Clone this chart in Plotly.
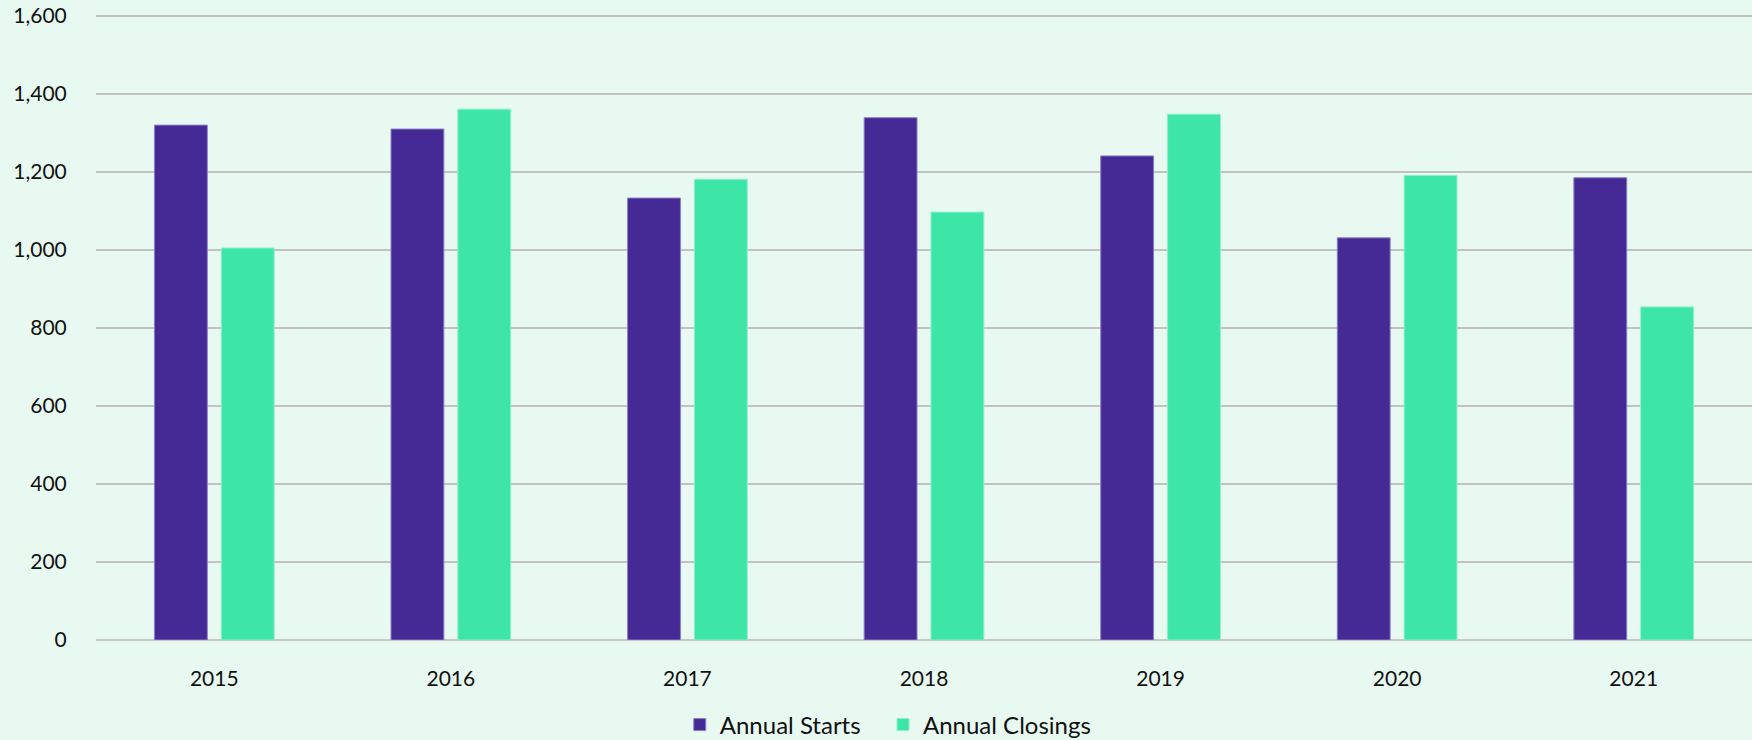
import plotly.graph_objects as go

years = ["2015", "2016", "2017", "2018", "2019", "2020", "2021"]
annual_starts = [1320, 1310, 1133, 1339, 1241, 1031, 1185]
annual_closings = [1005, 1361, 1181, 1097, 1348, 1191, 854]
y_ticks = [0, 200, 400, 600, 800, 1000, 1200, 1400, 1600]

PURPLE = "#452995"
GREEN = "#3DE5A7"
BG = "#E8F9F2"
FONT = "Lato, 'Open Sans', sans-serif"

fig = go.Figure()
fig.add_trace(go.Bar(x=years, y=annual_starts, name="Annual Starts", legend="legend",
                     marker=dict(color=PURPLE, line=dict(color="#8C7FC6", width=1))))
fig.add_trace(go.Bar(x=years, y=annual_closings, name="Annual Closings", legend="legend2",
                     marker=dict(color=GREEN, line=dict(color="#8EF0CB", width=1))))

legend_common = dict(orientation="h", xref="container", yref="container",
                     xanchor="left", y=0.0203, yanchor="middle",
                     font=dict(size=24), itemwidth=30, bgcolor="rgba(0,0,0,0)")

fig.update_layout(
    width=1752, height=740,
    paper_bgcolor=BG, plot_bgcolor=BG,
    margin=dict(l=96, r=0, t=12, b=100, autoexpand=False),
    barmode="group", bargap=0.435, bargroupgap=0.209,
    font=dict(family=FONT, size=21, color="#111111"),
    showlegend=True,
    legend=dict(x=0.388, **legend_common),
    legend2=dict(x=0.504, **legend_common),
    xaxis=dict(showgrid=False, ticks="outside", ticklen=20, tickcolor="rgba(0,0,0,0)",
               showline=False, zeroline=False, automargin=False),
    yaxis=dict(range=[0, 1610], tickvals=y_ticks, tickformat=",",
               showgrid=True, gridcolor="#C2C2C2", gridwidth=1.5,
               zeroline=True, zerolinecolor="#C8C8C8", zerolinewidth=1.5,
               ticks="outside", ticklen=24, tickcolor="rgba(0,0,0,0)",
               showline=False, automargin=False),
)

fig.write_html("out.html", config={"displayModeBar": False},
               post_script="document.body.style.margin='0';document.body.style.overflow='hidden';")
